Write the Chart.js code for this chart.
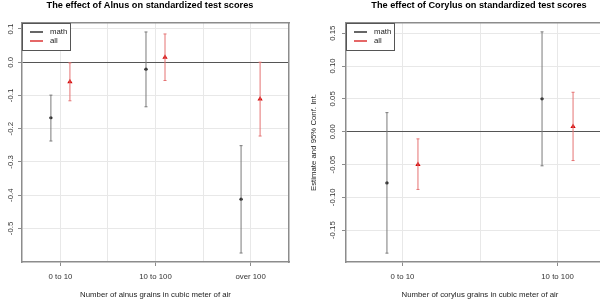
<!DOCTYPE html>
<html>
<head>
<meta charset="utf-8">
<script src="https://cdn.jsdelivr.net/npm/chart.js@4.4.0/dist/chart.umd.min.js"></script>
<style>
  html, body { margin: 0; padding: 0; background: #fff; overflow: hidden; }
  #wrap { position: relative; width: 600px; height: 300px; overflow: hidden; }
  #alnusBox { position: absolute; left: 0; top: 0; width: 300px; height: 300px; }
  #corylusBox { position: absolute; left: 300px; top: 0; width: 358px; height: 300px; }
</style>
</head>
<body>
<div id="wrap">
  <div id="alnusBox"><canvas id="alnusChart" width="300" height="300"></canvas></div>
  <div id="corylusBox"><canvas id="corylusChart" width="358" height="300"></canvas></div>
</div>
<script>
// categorias y valores
const categoriasAlnus = ['0 to 10', '10 to 100', 'over 100'];
const categoriasCorylus = ['0 to 10', '10 to 100'];
const series = ['math', 'all'];

// Alnus
const alnusMath = [-0.167, -0.021, -0.412];
const alnusMathBajo = [-0.237, -0.134, -0.574];
const alnusMathAlto = [-0.099, 0.091, -0.251];
const alnusAll = [-0.059, 0.015, -0.111];
const alnusAllBajo = [-0.116, -0.055, -0.222];
const alnusAllAlto = [-0.002, 0.085, 0.000];

// Corylus
const corylusMath = [-0.078, 0.050];
const corylusMathBajo = [-0.185, -0.052];
const corylusMathAlto = [0.029, 0.152];
const corylusAll = [-0.050, 0.008];
const corylusAllBajo = [-0.088, -0.044];
const corylusAllAlto = [-0.011, 0.060];

// marcas de los ejes
const ticksYAlnus = [-0.5, -0.4, -0.3, -0.2, -0.1, 0.0, 0.1];
const ticksYCorylus = [-0.15, -0.10, -0.05, 0.00, 0.05, 0.10, 0.15];
const gridXAlnus = [1, 1.5, 2, 2.5, 3];
const gridXCorylus = [1, 1.5, 2];

const FUENTE = 'Liberation Sans, Arial, Helvetica, sans-serif';
const COLOR_MATH = '#000000';
const COLOR_MATH_CI = '#7a7a7a';
const COLOR_ALL = '#d40000';
const COLOR_ALL_CI = '#e57373';
const COLOR_CAJA = '#8c8c8c';

// puntos con desplazamiento horizontal
function puntos(valores, desplazamiento) {
    return valores.map((v, i) => ({ x: i + 1 + desplazamiento, y: v }));
}

// intervalos como segmentos separados por huecos
function intervalos(bajos, altos, desplazamiento) {
    const datos = [];
    bajos.forEach((b, i) => {
        const x = i + 1 + desplazamiento;
        datos.push({ x: x, y: b });
        datos.push({ x: x, y: altos[i] });
        datos.push({ x: x, y: null });
    });
    return datos;
}

// leyenda con caja dentro del area del grafico
const leyendaCaja = {
    id: 'leyendaCaja',
    afterDatasetsDraw(chart) {
        const area = chart.chartArea;
        const ctx = chart.ctx;
        const x0 = area.left, y0 = area.top;
        ctx.save();
        ctx.fillStyle = '#ffffff';
        ctx.fillRect(x0, y0, 48, 27);
        ctx.strokeStyle = '#555555';
        ctx.lineWidth = 1;
        ctx.strokeRect(x0 + 0.5, y0 + 0.5, 48, 27);
        const colores = [COLOR_MATH, COLOR_ALL];
        ctx.font = '7.8px ' + FUENTE;
        ctx.textBaseline = 'middle';
        series.forEach((s, i) => {
            const y = y0 + 9 + i * 9;
            ctx.strokeStyle = colores[i];
            ctx.lineWidth = 1.2;
            ctx.beginPath();
            ctx.moveTo(x0 + 8, y);
            ctx.lineTo(x0 + 21, y);
            ctx.stroke();
            ctx.fillStyle = '#222222';
            ctx.fillText(s, x0 + 28, y);
        });
        ctx.restore();
    }
};

function crearGrafico(idCanvas, cfg) {
    const ctx = document.getElementById(idCanvas);

    const datasets = [
        {
            label: 'math CI',
            data: intervalos(cfg.mathBajo, cfg.mathAlto, -0.1),
            showLine: true,
            borderColor: COLOR_MATH_CI,
            borderWidth: 1,
            pointStyle: 'line',
            pointRadius: 1.5,
            pointBorderColor: COLOR_MATH_CI,
            pointBorderWidth: 1,
            spanGaps: false
        },
        {
            label: 'all CI',
            data: intervalos(cfg.allBajo, cfg.allAlto, 0.1),
            showLine: true,
            borderColor: COLOR_ALL_CI,
            borderWidth: 1,
            pointStyle: 'line',
            pointRadius: 1.5,
            pointBorderColor: COLOR_ALL_CI,
            pointBorderWidth: 1,
            spanGaps: false
        },
        {
            label: 'math',
            data: puntos(cfg.math, -0.1),
            pointStyle: 'circle',
            pointRadius: 1.6,
            backgroundColor: COLOR_MATH,
            borderColor: COLOR_MATH,
            borderWidth: 0
        },
        {
            label: 'all',
            data: puntos(cfg.all, 0.1),
            pointStyle: 'triangle',
            pointRadius: 3,
            backgroundColor: COLOR_ALL,
            borderColor: COLOR_ALL,
            borderWidth: 0
        }
    ];

    const bordeCaja = { color: COLOR_CAJA, width: 1.5 };

    const config = {
        type: 'scatter',
        data: { datasets },
        options: {
            responsive: false,
            animation: false,
            devicePixelRatio: 1,
            layout: { padding: 0 },
            plugins: {
                legend: { display: false },
                tooltip: { enabled: false },
                title: {
                    display: true,
                    text: cfg.titulo,
                    color: '#000000',
                    font: { family: FUENTE, size: 9.2, weight: 'bold' },
                    padding: { top: 0, bottom: 0 }
                }
            },
            scales: {
                x: {
                    type: 'linear',
                    position: 'bottom',
                    min: cfg.xMin,
                    max: cfg.xMax,
                    afterBuildTicks: s => { s.ticks = cfg.gridX.map(v => ({ value: v })); },
                    afterFit: s => { s.height = 38; },
                    ticks: {
                        autoSkip: false,
                        maxRotation: 0,
                        padding: 6,
                        color: '#333333',
                        font: { family: FUENTE, size: 7.8 },
                        callback: v => Number.isInteger(v) ? cfg.categorias[v - 1] : ''
                    },
                    grid: {
                        color: '#e8e8e8',
                        lineWidth: 1,
                        tickLength: 4,
                        tickColor: c => Number.isInteger(c.tick.value) ? COLOR_CAJA : 'rgba(0,0,0,0)'
                    },
                    border: bordeCaja,
                    title: {
                        display: true,
                        text: cfg.tituloX,
                        color: '#222222',
                        font: { family: FUENTE, size: 7.8 },
                        padding: { top: 0, bottom: 0 }
                    }
                },
                x2: {
                    type: 'linear',
                    position: 'top',
                    min: cfg.xMin,
                    max: cfg.xMax,
                    afterFit: s => { s.height = 23 - 11.04; },
                    ticks: { display: false },
                    grid: { drawOnChartArea: false, drawTicks: false },
                    border: bordeCaja
                },
                y: {
                    type: 'linear',
                    position: 'left',
                    min: cfg.yMin,
                    max: cfg.yMax,
                    afterBuildTicks: s => { s.ticks = cfg.ticksY.map(v => ({ value: v })); },
                    afterFit: s => { s.width = cfg.anchoY; },
                    ticks: {
                        minRotation: 90,
                        maxRotation: 90,
                        crossAlign: 'center',
                        padding: 0,
                        color: '#333333',
                        font: { family: FUENTE, size: 7.8 },
                        callback: v => v.toFixed(cfg.decimales)
                    },
                    grid: {
                        color: c => (c.tick && Math.abs(c.tick.value) < 1e-9) ? '#555555' : '#e8e8e8',
                        lineWidth: 1,
                        tickLength: 4,
                        tickColor: COLOR_CAJA
                    },
                    border: bordeCaja,
                    title: {
                        display: !!cfg.tituloY,
                        text: cfg.tituloY || '',
                        color: '#222222',
                        font: { family: FUENTE, size: 7.8 },
                        padding: { top: 9.3, bottom: 0 }
                    }
                },
                y2: {
                    type: 'linear',
                    position: 'right',
                    min: cfg.yMin,
                    max: cfg.yMax,
                    afterFit: s => { s.width = cfg.anchoY2; },
                    ticks: { display: false },
                    grid: { drawOnChartArea: false, drawTicks: false },
                    border: bordeCaja
                }
            }
        },
        plugins: [leyendaCaja]
    };

    return new Chart(ctx, config);
}

crearGrafico('alnusChart', {
    titulo: 'The effect of Alnus on standardized test scores',
    tituloX: 'Number of alnus grains in cubic meter of air',
    tituloY: null,
    categorias: categoriasAlnus,
    math: alnusMath, mathBajo: alnusMathBajo, mathAlto: alnusMathAlto,
    all: alnusAll, allBajo: alnusAllBajo, allAlto: alnusAllAlto,
    ticksY: ticksYAlnus,
    gridX: gridXAlnus,
    decimales: 1,
    xMin: 0.596, xMax: 3.404,
    yMin: -0.601, yMax: 0.118,
    anchoY: 22, anchoY2: 11
});

crearGrafico('corylusChart', {
    titulo: 'The effect of Corylus on standardized test scores',
    tituloX: 'Number of corylus grains in cubic meter of air',
    tituloY: 'Estimate and 95% Conf. Int.',
    categorias: categoriasCorylus,
    math: corylusMath, mathBajo: corylusMathBajo, mathAlto: corylusMathAlto,
    all: corylusAll, allBajo: corylusAllBajo, allAlto: corylusAllAlto,
    ticksY: ticksYCorylus,
    gridX: gridXCorylus,
    decimales: 2,
    xMin: 0.636, xMax: 2.364,
    yMin: -0.1985, yMax: 0.1655,
    anchoY: 46, anchoY2: 44
});
</script>
</body>
</html>
